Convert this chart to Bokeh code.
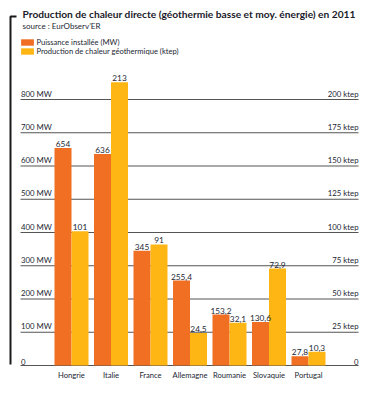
from bokeh.plotting import figure
from bokeh.models import Range1d, ColumnDataSource, Legend, LegendItem
from bokeh.core.properties import value
from bokeh.transform import dodge
from bokeh.embed import file_html
from bokeh.resources import INLINE

# ---------------- data ----------------
countries = ["Hongrie", "Italie", "France", "Allemagne", "Roumanie", "Slovaquie", "Portugal"]
puissance_mw = [654, 636, 345, 255.4, 153.2, 130.6, 27.8]
production_ktep = [101, 213, 91, 24.5, 32.1, 72.9, 10.3]
mw_ticks = [0, 100, 200, 300, 400, 500, 600, 700, 800]
mw_tick_labels = ["0", "100 MW", "200 MW", "300 MW", "400 MW", "500 MW", "600 MW", "700 MW", "800 MW"]
ktep_ticks = [0, 25, 50, 75, 100, 125, 150, 175, 200]
ktep_tick_labels = ["0", "25 ktep", "50 ktep", "75 ktep", "100 ktep", "125 ktep", "150 ktep", "175 ktep", "200 ktep"]
series_names = ["Puissance installée (MW)", "Production de chaleur géothermique (ktep)"]
title_text = "Production de chaleur directe (géothermie basse et moy. énergie) en 2011"
source_text = "source : EurObserv’ER"

# ---------------- layout ----------------
W, H = 371, 402
STEP = 39.5          # px between category centres
X0 = 71              # px of first category centre
Y0 = 365             # px of value 0
PX_PER_MW = 266 / 800
KTEP_TO_MW = 4
BAR_W = 17 / STEP
FONT = "Lato"
TXT = "#1c1f33"
ORANGE = "#F06F22"
YELLOW = "#FDB614"


def px_x(fx):
    return (fx - X0) / STEP


def px_y(fy):
    return (Y0 - fy) / PX_PER_MW


def fmt(v):
    return f"{v:g}".replace(".", ",")


src = ColumnDataSource(dict(
    idx=list(range(len(countries))),
    country=countries,
    mw=puissance_mw,
    ktep=production_ktep,
    mw_lab=[fmt(v) for v in puissance_mw],
    ktep_lab=[fmt(v) for v in production_ktep],
))

p = figure(width=W, height=H,
           x_range=Range1d(px_x(0), px_x(W)),
           y_range=Range1d(px_y(H), px_y(0)),
           output_backend="svg", toolbar_location=None,
           x_axis_location=None, y_axis_location=None,
           min_border=0, outline_line_color=None)
p.xgrid.visible = False
p.ygrid.visible = False
p.extra_y_ranges = {"ktep": Range1d(px_y(H) / KTEP_TO_MW, px_y(0) / KTEP_TO_MW)}

# gridlines
gl_x0, gl_x1 = px_x(20), px_x(358)
p.segment(x0=gl_x0, x1=gl_x1, y0=mw_ticks, y1=mw_ticks, line_color="#555555", line_width=1.2)

# bars
r_mw = p.vbar(x=dodge("idx", -BAR_W / 2), top="mw", width=BAR_W, source=src,
              fill_color=ORANGE, line_color=None)
r_kt = p.vbar(x=dodge("idx", BAR_W / 2), top="ktep", width=BAR_W, source=src, y_range_name="ktep",
              fill_color=YELLOW, line_color=None)

# value labels
p.text(x=dodge("idx", -BAR_W / 2), y="mw", text="mw_lab", source=src,
       text_align="center", text_baseline="bottom", y_offset=-1,
       text_font=value(FONT), text_font_size="8.3px", text_color=TXT)
p.text(x=dodge("idx", BAR_W / 2), y="ktep", text="ktep_lab", source=src, y_range_name="ktep",
       text_align="center", text_baseline="bottom", y_offset=-1,
       text_font=value(FONT), text_font_size="8.3px", text_color=TXT)

# category labels
p.text(x="idx", y=0, text="country", source=src, text_align="center", text_baseline="top",
       y_offset=4, text_font=value(FONT), text_font_size="7.6px", text_color=TXT)

# axis tick labels (inside, above the gridlines)
p.text(x=px_x(20.5), y=mw_ticks, text=mw_tick_labels, text_align="left", text_baseline="bottom",
       y_offset=-1, text_font=value(FONT), text_font_size="7.8px", text_color=TXT)
p.text(x=px_x(358), y=ktep_ticks, text=ktep_tick_labels, y_range_name="ktep",
       text_align="right", text_baseline="bottom",
       y_offset=-1, text_font=value(FONT), text_font_size="7.8px", text_color=TXT)

# title / source
p.text(x=px_x(22), y=px_y(13), text=[title_text], text_align="left", text_baseline="middle",
       text_font=value(FONT), text_font_style="bold", text_font_size="10.2px", text_color="#1a1a2a")
p.text(x=px_x(22), y=px_y(25.5), text=[source_text], text_align="left", text_baseline="middle",
       text_font=value(FONT), text_font_size="8px", text_color=TXT)

# bracket
p.line(x=[px_x(16), px_x(10), px_x(10)], y=[px_y(16), px_y(16), px_y(364)],
       line_color="#1a1a1a", line_width=2)

# legend: one entry per legend so that the rows can sit tightly together
legend_rows = [(series_names[0], r_mw, 46.75), (series_names[1], r_kt, 56.05)]
for name, rend, bottom_px in legend_rows:
    lg = Legend(items=[LegendItem(label=name, renderers=[rend])],
                location=(19.4, H - bottom_px),
                padding=0, margin=0, spacing=0,
                glyph_width=16, glyph_height=8, label_height=7, label_standoff=1,
                label_text_font=FONT, label_text_font_size="7.6px", label_text_color=TXT,
                background_fill_alpha=0, border_line_color=None)
    p.add_layout(lg)

open("out.html", "w").write(file_html(p, INLINE))
